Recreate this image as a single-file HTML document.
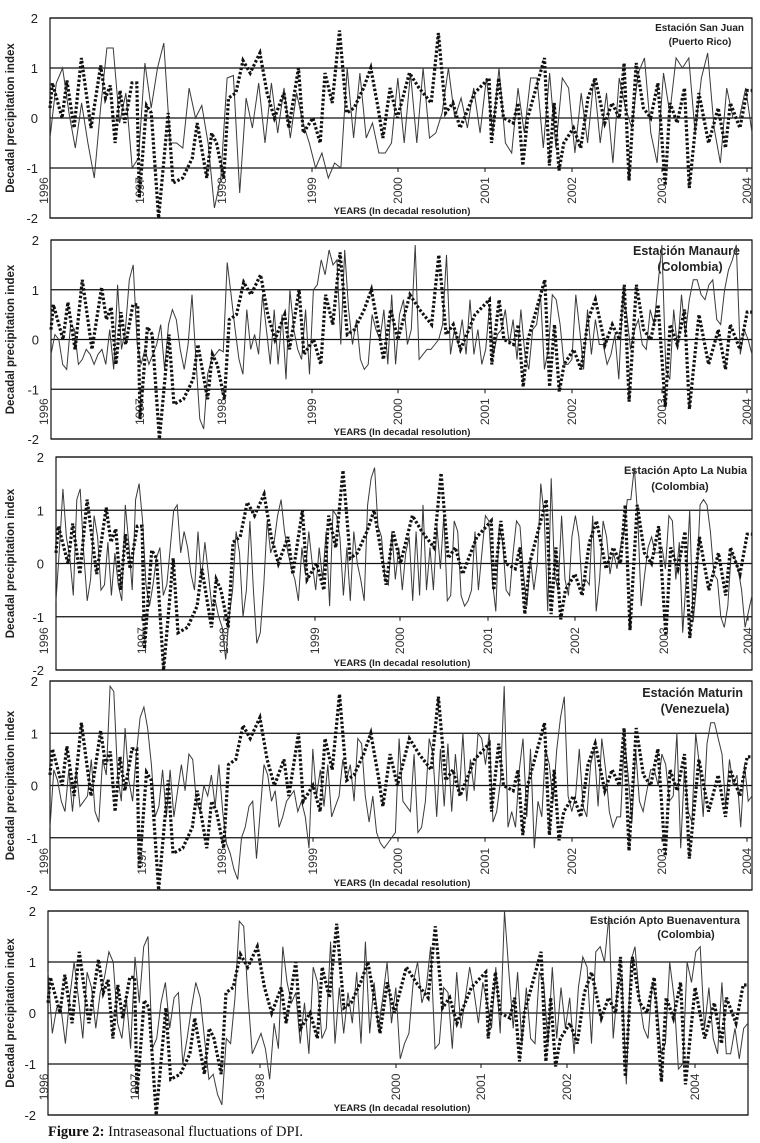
<!DOCTYPE html>
<html><head><meta charset="utf-8">
<style>
html,body{margin:0;padding:0;background:#fff;}
svg{display:block;}
</style></head>
<body>
<svg id="fig" width="760" height="1143" viewBox="0 0 760 1143" xmlns="http://www.w3.org/2000/svg" font-family="Liberation Sans, Arial, sans-serif">
<text x="48" y="1136" font-family="Liberation Serif, serif" font-size="14.5" fill="#111"><tspan font-weight="bold">Figure 2:</tspan> Intraseasonal fluctuations of DPI.</text>
</svg>
<script>
// Shared dotted DPI reference series (decade index, value)
const dpiDecade = [0,1,5,7,10,13,17,21,23,25,27,29,31,34,36,37,40,42,45,49,51,55,59,61,65,67,69,72,74,77,80,83,87,90,93,97,99,103,105,109,112,114,117,120,123,126,130,133,136,138,141,144,149,153,158,161,164,167,170,176,182,183,186,188,192,194,196,198,205,207,209,211,213,217,220,223,226,230,233,236,238,240,243,246,249,252,255,257,260,263,265,269,273,277,280,282,286,289,291];
const dpiValue = [0.2,0.7,0,0.75,-0.2,1.2,-0.2,1.05,0.4,0.65,-0.5,0.55,-0.1,0.7,0.7,-1.6,0.25,0.1,-2.0,0.1,-1.3,-1.2,-0.8,-0.1,-1.2,-0.3,-0.5,-1.2,0.4,0.5,1.15,0.9,1.3,0.5,0,0.5,-0.2,1.0,-0.3,0,-0.5,0.9,0.3,1.75,0.1,0.2,0.6,1.0,0.2,-0.4,0.6,0,0.9,0.6,0.3,1.7,0.1,0.3,-0.2,0.5,0.8,-0.5,0.8,0,-0.1,0.3,-0.95,0,1.2,-0.95,0.3,-1.05,-0.5,-0.2,-0.6,0.4,0.8,-0.1,0.3,0,1.1,-1.25,1.1,0.2,0,0.7,-1.35,0.3,-0.1,0.6,-1.4,0.5,-0.5,0.2,-0.6,0.3,-0.2,0.55,0.55];
const maxDecade = 291;

// Station series (evenly spaced decades)
const sanJuan = [-0.4,0.7,1.0,0.1,-0.6,0.3,-0.5,-1.2,0.2,1.4,1.4,-0.1,0.5,-1.0,-0.8,1.1,0.2,1.0,1.5,-0.5,-0.5,-0.6,0.6,0,0.25,-0.5,-1.8,-1.2,0.8,0.85,-1.5,0.4,-0.2,0.7,-0.5,0.7,-0.3,0.6,-0.4,0.5,-0.1,-0.5,-1.0,-0.7,-1.2,-0.9,-1.0,1.0,-0.4,0.9,-0.4,-0.1,-0.7,-0.7,-0.5,0.8,-0.5,0.9,-0.5,1.0,-0.4,-0.3,0.1,1.0,0,0.4,-0.2,0.6,-0.3,0.8,-0.3,1.0,-0.5,-0.7,0.6,-0.3,0.8,0.8,-0.6,0.9,-0.6,0.8,0.6,-0.7,0.5,-0.5,0.8,-0.5,0.5,-0.9,0.8,0.2,-0.2,0.9,1.2,-0.3,-0.9,0.9,0.1,1.2,1.0,1.2,-0.3,0.8,1.3,-0.2,-0.9,0.6,0,0,0.6,-0.3];
const manaure = [-0.3,0.1,0,-0.5,-0.6,0.3,0.2,-0.5,-0.4,-0.2,-0.3,-0.5,-0.3,-0.2,-0.5,0.2,-0.6,1.1,-0.2,0.2,1.2,1.5,-0.1,-0.5,-0.2,-0.5,-0.3,-0.1,0.3,-0.6,0.3,0.6,0.4,-0.2,-0.6,-0.1,0.9,-0.4,-1.6,-1.8,-0.7,-0.4,-0.3,-0.2,-0.25,1.55,0.9,0.2,-0.4,-0.7,0.6,-0.2,0.1,-0.3,0.9,0.2,-0.5,0.6,-0.5,0.5,-0.8,1.0,0.2,-0.2,-0.4,0.6,-0.7,1.0,1.1,1.6,1.3,1.8,1.5,1.6,-0.1,1.8,0.6,-0.1,0.4,-0.4,-0.6,-0.5,0.5,0.2,0,0.6,-0.5,0.9,-0.5,0.5,0.8,-0.1,0.2,1.9,-0.4,-0.3,-0.2,-0.2,-0.1,0,0.3,1.7,-0.3,0.2,-0.1,0.4,-0.3,0.8,-0.3,0.2,-0.5,-0.2,0.7,-0.3,0.1,0.2,0.6,-0.1,0.4,-0.4,0.6,-0.3,-0.6,0.2,0.3,0.9,-0.6,-0.2,0.9,0.8,0.3,-0.5,-0.5,-0.4,0.9,0.2,-0.6,0.6,-0.3,0.4,-0.1,-0.1,-0.5,-0.3,0.1,-0.8,0.9,0.5,-0.2,0.2,0.4,-0.1,-0.2,0.6,0.3,1.1,1.9,-0.6,-0.8,0.6,-0.2,0.9,0.1,0.8,1.2,1.2,0.9,0.8,1.1,1.2,0.4,0.3,1.0,1.4,1.6,1.9,-0.3,0.2,0,-0.3];
const laNubia = [-0.7,0.3,1.4,0.5,0.1,-0.6,1.2,1.4,0.2,-0.7,-0.3,0.9,0.5,-0.5,-0.4,0.4,-0.6,0.2,-0.4,-0.7,1.1,0.4,-0.5,1.2,1.5,0.8,-0.4,-0.8,-0.4,0.1,0.3,-0.6,-0.4,0.3,1.0,1.1,0.2,0.6,0.3,-0.2,-0.5,0.6,-0.3,0.4,-0.2,-0.8,-0.7,-1.0,-1.2,-1.8,-1.0,-0.5,0.6,0.2,-1.0,-0.5,0.8,-0.5,-1.5,-1.3,-0.4,0.8,0.2,0.4,0.9,1.2,0.6,0.2,-0.1,-0.3,-0.7,0.3,-0.2,0.6,0,-0.5,0.3,-0.3,0.6,-0.8,1.0,0.9,0.5,-0.6,0.3,-0.7,0.6,0,-0.3,-0.7,1.1,1.6,1.8,0.7,0.5,-0.3,-0.4,0.6,-0.3,0.3,-0.5,0.2,0.5,-0.7,0.6,-0.6,1.1,-0.5,0.3,-0.5,0.7,-0.1,0.9,-0.7,-0.6,0.8,0.6,-0.6,-0.8,-0.7,-0.5,0.6,-0.5,0.2,0.9,0.8,-0.3,-0.9,0.7,0.4,-0.5,-0.6,0.2,0.8,0.7,-0.2,-0.8,0.1,-0.5,0,1.5,0.9,-0.9,1.6,-0.2,-0.5,0.9,-0.3,-0.6,0.5,0.9,0.5,-0.5,-0.3,-0.4,0.9,-0.9,-0.3,0.8,0.5,-0.2,0.2,-0.1,0.3,0.6,1.2,1.2,1.8,0.9,-0.8,-0.2,0.3,0.5,0.2,0.2,0.3,-0.1,0.9,0.8,-0.3,0.4,-1.3,-0.3,1.0,-1.1,-0.4,1.1,1.2,1.1,0.6,-0.2,-0.3,-1.0,-1.2,-0.8,0.2,0.1,-0.1,-0.5,-1.2,-0.9,-0.6];
const maturin = [-0.8,0.3,0.1,-0.3,-0.5,0.3,-0.5,0.3,-0.4,-0.3,-0.2,0.5,-0.5,-0.7,0.5,0.2,1.9,1.8,0.2,-0.3,1.1,0.1,-0.3,0.6,1.3,1.5,1.1,0.4,-0.6,-0.4,0.3,-0.6,0.3,-0.6,-0.1,0.4,-0.1,0.6,0.5,-0.3,-0.5,0,-0.2,0.2,-0.4,0.4,-0.5,-1.1,-1.3,-1.6,-1.8,-1.0,-0.8,-0.4,-0.3,-1.4,-0.5,0.4,0.2,-0.3,-0.1,-0.8,-0.6,-0.3,-0.2,-0.1,-0.5,-0.3,-0.6,-1.2,0.7,-0.2,0.3,-0.4,0.4,-0.6,-0.4,-0.2,0.5,0.1,0.4,-0.3,0.9,0.8,-0.2,-0.7,-0.2,-0.9,-1.1,-1.2,-1.1,-1.0,-0.9,0.9,-0.3,-0.4,-0.5,0.6,-0.9,-0.8,-0.3,0.9,0.6,-0.6,0.7,-0.4,0.8,-0.5,0.6,-0.2,1.0,-0.3,0.5,-0.1,1.0,0.9,0.4,1.0,-0.7,-0.5,0.1,1.9,-0.8,-0.5,-0.8,0.3,0.9,-0.6,0.7,-1.2,-0.3,-0.6,0.7,0.4,-0.3,0.7,1.3,1.7,-0.2,-0.5,-0.2,0.7,-0.4,-0.6,0.4,0.7,-0.4,0.9,0.3,-0.5,-0.8,-0.6,-0.6,0.9,0.2,-0.7,0.7,-0.3,-0.5,-0.1,0.3,0.3,0,0.6,0.4,-0.3,-0.2,1.0,-1.2,0.3,-0.5,-0.7,1.0,0.4,-0.6,0.8,1.2,1.2,0.9,0.6,-0.4,0.5,0,0.2,-0.8,0.4,-0.3,-0.2];
const buenaventura = [0.8,-0.4,0.1,0.1,-0.6,0.3,1.0,0.3,-0.5,0.8,0.5,-0.3,0.4,0.7,1.2,1.0,-0.2,-0.5,0.3,-0.7,1.1,0.2,1.3,1.5,-0.7,-0.5,0.2,0.6,-0.3,0.3,0.4,-1.0,-0.5,0.1,0.6,0.3,-0.5,-1.3,-1.2,-1.6,-1.8,-0.5,-0.6,0.3,1.8,1.7,0.3,-0.8,-0.6,-0.4,-0.7,-1.3,-0.2,-0.7,1.3,0.6,0.2,0.4,-0.6,0.2,-0.8,0.9,0.6,-0.5,-0.3,1.4,-0.6,0.5,-0.4,0.4,-0.2,0.8,-0.6,1.4,-0.4,0.6,-0.3,0.3,1.0,-0.2,0.5,-0.9,-0.6,-0.4,0.6,1.0,0.2,0.5,1.3,-0.7,-0.6,0.5,0.4,-0.7,0.8,-0.3,0.3,0.9,0.4,-0.2,0.6,0.2,-0.3,0.9,-0.4,2.0,0.8,-0.3,0.8,-0.6,0.5,-0.5,-0.6,0.8,0.6,-0.6,0.9,-0.5,0.5,-0.3,0.3,-0.8,0.5,1.1,0.9,-0.6,1.2,1.3,1.0,1.9,-0.5,0.5,0.7,-1.4,1.0,1.3,0.3,-0.3,-0.5,0.6,0.2,-0.8,-0.6,1.0,0.3,-1.1,-1.0,1.0,0.6,1.2,1.3,-0.3,0.5,-0.5,-0.8,0.6,-0.8,-0.8,-0.3,-0.9,-0.3,-0.2];

const yTicks = [2,1,0,-1,-2];
const yearLabelsA = ['1996','1997','1998','1999','2000','2001','2002','2003','2004'];
const yearLabelsB = ['1996','1997','1998','2000','2001','2002','2004'];

const NS = 'http://www.w3.org/2000/svg';
const svg = document.getElementById('fig');
function mk(tag, attrs, parent){
  const e = document.createElementNS(NS, tag);
  for (const k in attrs) e.setAttribute(k, attrs[k]);
  (parent||svg).appendChild(e);
  return e;
}

const panels = [
  {name:'san-juan', series:sanJuan, l:50,r:752,t:18,b:218, title:['Estación San Juan','(Puerto Rico)'], fs:10, ty:[31,45], tx:[744,700], years:yearLabelsA, yx:[44,140,222,312,398,485,572,662,747]},
  {name:'manaure', series:manaure, l:51,r:752,t:240,b:439, title:['Estación Manaure','(Colombia)'], fs:12.5, ty:[255,271], tx:[740,690], years:yearLabelsA, yx:[44,140,222,312,398,485,572,662,747]},
  {name:'la-nubia', series:laNubia, l:56,r:752,t:457,b:670, title:['Estación  Apto La Nubia','(Colombia)'], fs:11, ty:[474,490], tx:[747,680], years:yearLabelsA, yx:[44,142,224,315,400,488,575,664,748]},
  {name:'maturin', series:maturin, l:50,r:752,t:681,b:890, title:['Estación Maturin','(Venezuela)'], fs:12.5, ty:[697,713], tx:[743,695], years:yearLabelsA, yx:[44,142,222,313,398,485,572,662,747]},
  {name:'buenaventura', series:buenaventura, l:48,r:748,t:911,b:1115, title:['Estación Apto Buenaventura','(Colombia)'], fs:11, ty:[924,938], tx:[740,686], years:yearLabelsB, yx:[44,135,260,396,481,567,695]}
];

panels.forEach((p)=>{
  const g = mk('g',{});
  
  
  const yS = v => p.t + (2 - v) / 4 * (p.b - p.t);
  const xS = d => p.l + d / maxDecade * (p.r - p.l);
  // gridlines
  yTicks.forEach(v=>{
    const ln = mk('line',{x1:p.l,x2:p.r,y1:yS(v),y2:yS(v),stroke:'#111','stroke-width':1.2},g);
    
    
    const tx = mk('text',{x:p.l-12,y:yS(v)+5,'text-anchor':'end','font-size':13,fill:'#222'},g);
    tx.textContent = String(v);
    
    
  });
  // frame
  const fr = mk('rect',{x:p.l,y:p.t,width:p.r-p.l,height:p.b-p.t,fill:'none',stroke:'#111','stroke-width':1.2},g);
  
  
  // year ticks + labels
  p.years.forEach((y,i)=>{
    const x = p.yx[i];
    if (i>0){
      const tk = mk('line',{x1:x,x2:x,y1:yS(-1),y2:yS(-1)+4,stroke:'#111'},g);
      
      
    }
    const cy = yS(-1.45);
    const t = mk('text',{x:x+4,y:cy,'text-anchor':'middle','font-size':12,fill:'#333',transform:`rotate(-90 ${x+4} ${cy})`},g);
    t.textContent = y;
    
    
  });
  // axis titles
  const yt = mk('text',{x:14,y:(p.t+p.b)/2,'text-anchor':'middle','font-size':11.5,'font-weight':'bold',fill:'#222',transform:`rotate(-90 14 ${(p.t+p.b)/2})`},g);
  yt.textContent = 'Decadal precipitation index';
  
  
  const xt = mk('text',{x:402,y:p.b-4,'text-anchor':'middle','font-size':9.5,'font-weight':'bold',fill:'#222'},g);
  xt.textContent = 'YEARS (In decadal resolution)';
  
  
  // station title
  const s1 = mk('text',{x:p.tx[0],y:p.ty[0],'text-anchor':'end','font-size':p.fs,'font-weight':'bold',fill:'#222'},g);
  s1.textContent = p.title[0];
  
  
  const s2 = mk('text',{x:p.tx[1],y:p.ty[1],'text-anchor':'middle','font-size':p.fs,'font-weight':'bold',fill:'#222'},g);
  s2.textContent = p.title[1];
  
  
  // solid station series
  const n = p.series.length;
  const pts = p.series.map((v,i)=> xS(i/(n-1)*maxDecade).toFixed(1)+','+yS(v).toFixed(1)).join(' ');
  const sl = mk('polyline',{points:pts,fill:'none',stroke:'#3a3a3a','stroke-width':1},g);
  
  
  // dotted DPI series
  const dpts = dpiDecade.map((d,i)=> xS(d).toFixed(1)+','+yS(dpiValue[i]).toFixed(1)).join(' ');
  const dl = mk('polyline',{points:dpts,fill:'none',stroke:'#111','stroke-width':3.2,'stroke-dasharray':'2.5,2'},g);
  
  
});
</script>
</body></html>
